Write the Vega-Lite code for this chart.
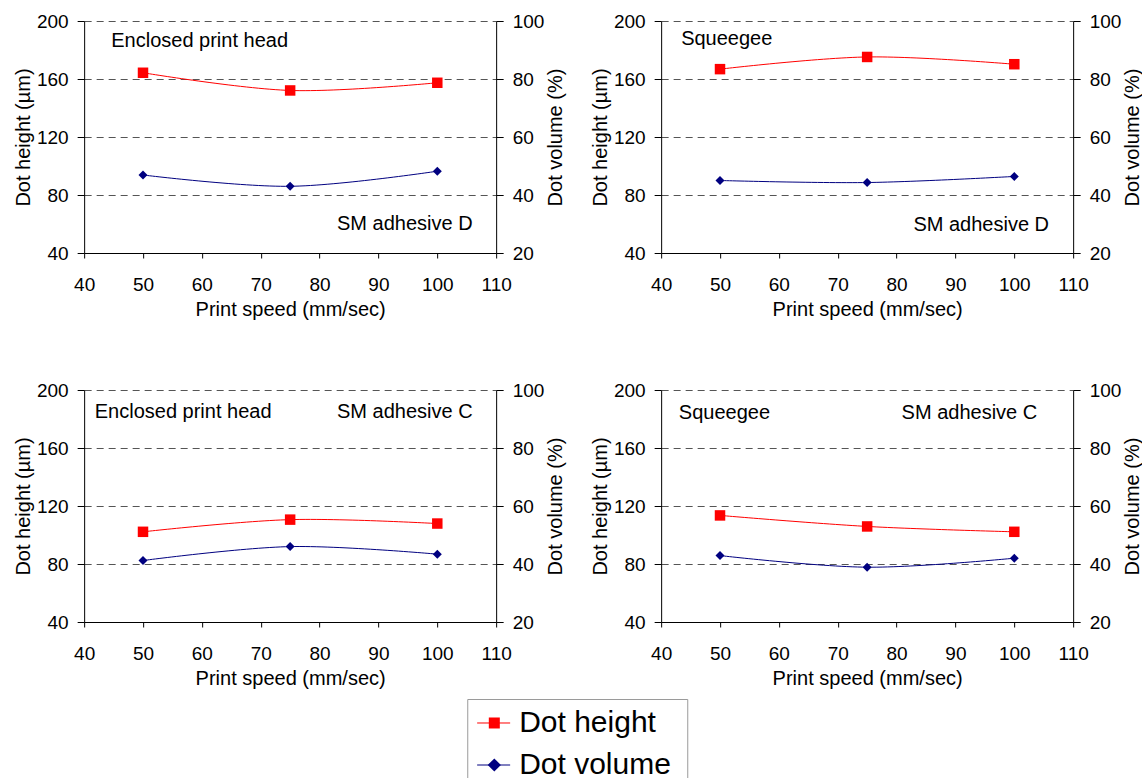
{
  "$schema": "https://vega.github.io/schema/vega-lite/v6.json",
  "padding": {"left": 13, "top": 12, "right": 5, "bottom": 0},
  "background": "white",
  "datasets": {
    "points": [
      {"panel": "A", "method": "Enclosed print head", "adhesive": "SM adhesive D", "speed": 50, "height": 164.3, "volume": 46.9},
      {"panel": "A", "method": "Enclosed print head", "adhesive": "SM adhesive D", "speed": 75, "height": 152.1, "volume": 43.0},
      {"panel": "A", "method": "Enclosed print head", "adhesive": "SM adhesive D", "speed": 100, "height": 157.4, "volume": 48.2},
      {"panel": "B", "method": "Squeegee", "adhesive": "SM adhesive D", "speed": 50, "height": 166.8, "volume": 45.0},
      {"panel": "B", "method": "Squeegee", "adhesive": "SM adhesive D", "speed": 75, "height": 175.2, "volume": 44.3},
      {"panel": "B", "method": "Squeegee", "adhesive": "SM adhesive D", "speed": 100, "height": 170.2, "volume": 46.4},
      {"panel": "C", "method": "Enclosed print head", "adhesive": "SM adhesive C", "speed": 50, "height": 102.2, "volume": 41.2},
      {"panel": "C", "method": "Enclosed print head", "adhesive": "SM adhesive C", "speed": 75, "height": 110.6, "volume": 46.0},
      {"panel": "C", "method": "Enclosed print head", "adhesive": "SM adhesive C", "speed": 100, "height": 107.9, "volume": 43.4},
      {"panel": "D", "method": "Squeegee", "adhesive": "SM adhesive C", "speed": 50, "height": 113.5, "volume": 42.9},
      {"panel": "D", "method": "Squeegee", "adhesive": "SM adhesive C", "speed": 75, "height": 105.9, "volume": 38.9},
      {"panel": "D", "method": "Squeegee", "adhesive": "SM adhesive C", "speed": 100, "height": 102.2, "volume": 42.0}
    ],
    "legend": [
      {"series": "Dot height"},
      {"series": "Dot volume"}
    ]
  },
  "vconcat": [
    {
      "concat": [
        {
          "width": 412, "height": 232,
          "data": {"name": "points"},
          "transform": [{"filter": "datum.panel === 'A'"}],
          "layer": [
            {
              "encoding": {
                "x": {"field": "speed", "type": "quantitative", "scale": {"domain": [40, 110], "nice": false, "zero": false}, "axis": {"values": [40, 50, 60, 70, 80, 90, 100, 110], "title": "Print speed (mm/sec)", "tickSize": 5, "labelPadding": 17, "titlePadding": 5, "grid": false}},
                "y": {"field": "height", "type": "quantitative", "scale": {"domain": [40, 200], "nice": false, "zero": false}, "axis": {"values": [40, 80, 120, 160, 200], "title": "Dot height (µm)", "tickSize": 7, "labelPadding": 9, "titlePadding": 3, "grid": true}}
              },
              "layer": [
                {"mark": {"type": "line", "color": "#ff0000", "strokeWidth": 1, "interpolate": "cardinal"}},
                {"mark": {"type": "point", "shape": "square", "filled": true, "color": "#ff0000", "size": 110, "opacity": 1}},
                {"transform": [{"filter": "datum.speed === 50"}], "mark": {"type": "text", "align": "left", "baseline": "middle", "fontSize": 20, "color": "#000"}, "encoding": {"x": {"datum": 44.6, "type": "quantitative"}, "y": {"datum": 186.5, "type": "quantitative"}, "text": {"field": "method"}}},
                {"transform": [{"filter": "datum.speed === 50"}], "mark": {"type": "text", "align": "right", "baseline": "middle", "fontSize": 20, "color": "#000"}, "encoding": {"x": {"datum": 106.0, "type": "quantitative"}, "y": {"datum": 59.8, "type": "quantitative"}, "text": {"field": "adhesive"}}}
              ]
            },
            {
              "encoding": {
                "x": {"field": "speed", "type": "quantitative"},
                "y": {"field": "volume", "type": "quantitative", "scale": {"domain": [20, 100], "nice": false, "zero": false}, "axis": {"orient": "right", "values": [20, 40, 60, 80, 100], "title": "Dot volume (%)", "titleAngle": 270, "titleBaseline": "top", "tickSize": 7, "labelPadding": 9, "titlePadding": 2, "grid": false}}
              },
              "layer": [
                {"mark": {"type": "line", "color": "#000080", "strokeWidth": 1, "interpolate": "cardinal"}},
                {"mark": {"type": "point", "shape": "diamond", "filled": true, "color": "#000080", "size": 81, "opacity": 1}}
              ]
            }
          ],
          "resolve": {"scale": {"y": "independent"}}
        },
        {
          "width": 412, "height": 232,
          "data": {"name": "points"},
          "transform": [{"filter": "datum.panel === 'B'"}],
          "layer": [
            {
              "encoding": {
                "x": {"field": "speed", "type": "quantitative", "scale": {"domain": [40, 110], "nice": false, "zero": false}, "axis": {"values": [40, 50, 60, 70, 80, 90, 100, 110], "title": "Print speed (mm/sec)", "tickSize": 5, "labelPadding": 17, "titlePadding": 5, "grid": false}},
                "y": {"field": "height", "type": "quantitative", "scale": {"domain": [40, 200], "nice": false, "zero": false}, "axis": {"values": [40, 80, 120, 160, 200], "title": "Dot height (µm)", "tickSize": 7, "labelPadding": 9, "titlePadding": 3, "grid": true}}
              },
              "layer": [
                {"mark": {"type": "line", "color": "#ff0000", "strokeWidth": 1, "interpolate": "cardinal"}},
                {"mark": {"type": "point", "shape": "square", "filled": true, "color": "#ff0000", "size": 110, "opacity": 1}},
                {"transform": [{"filter": "datum.speed === 50"}], "mark": {"type": "text", "align": "left", "baseline": "middle", "fontSize": 20, "color": "#000"}, "encoding": {"x": {"datum": 43.4, "type": "quantitative"}, "y": {"datum": 187.3, "type": "quantitative"}, "text": {"field": "method"}}},
                {"transform": [{"filter": "datum.speed === 50"}], "mark": {"type": "text", "align": "right", "baseline": "middle", "fontSize": 20, "color": "#000"}, "encoding": {"x": {"datum": 105.9, "type": "quantitative"}, "y": {"datum": 59.0, "type": "quantitative"}, "text": {"field": "adhesive"}}}
              ]
            },
            {
              "encoding": {
                "x": {"field": "speed", "type": "quantitative"},
                "y": {"field": "volume", "type": "quantitative", "scale": {"domain": [20, 100], "nice": false, "zero": false}, "axis": {"orient": "right", "values": [20, 40, 60, 80, 100], "title": "Dot volume (%)", "titleAngle": 270, "titleBaseline": "top", "tickSize": 7, "labelPadding": 9, "titlePadding": 2, "grid": false}}
              },
              "layer": [
                {"mark": {"type": "line", "color": "#000080", "strokeWidth": 1, "interpolate": "cardinal"}},
                {"mark": {"type": "point", "shape": "diamond", "filled": true, "color": "#000080", "size": 81, "opacity": 1}}
              ]
            }
          ],
          "resolve": {"scale": {"y": "independent"}}
        },
        {
          "width": 412, "height": 232,
          "data": {"name": "points"},
          "transform": [{"filter": "datum.panel === 'C'"}],
          "layer": [
            {
              "encoding": {
                "x": {"field": "speed", "type": "quantitative", "scale": {"domain": [40, 110], "nice": false, "zero": false}, "axis": {"values": [40, 50, 60, 70, 80, 90, 100, 110], "title": "Print speed (mm/sec)", "tickSize": 5, "labelPadding": 17, "titlePadding": 5, "grid": false}},
                "y": {"field": "height", "type": "quantitative", "scale": {"domain": [40, 200], "nice": false, "zero": false}, "axis": {"values": [40, 80, 120, 160, 200], "title": "Dot height (µm)", "tickSize": 7, "labelPadding": 9, "titlePadding": 3, "grid": true}}
              },
              "layer": [
                {"mark": {"type": "line", "color": "#ff0000", "strokeWidth": 1, "interpolate": "cardinal"}},
                {"mark": {"type": "point", "shape": "square", "filled": true, "color": "#ff0000", "size": 110, "opacity": 1}},
                {"transform": [{"filter": "datum.speed === 50"}], "mark": {"type": "text", "align": "left", "baseline": "middle", "fontSize": 20, "color": "#000"}, "encoding": {"x": {"datum": 41.8, "type": "quantitative"}, "y": {"datum": 184.8, "type": "quantitative"}, "text": {"field": "method"}}},
                {"transform": [{"filter": "datum.speed === 50"}], "mark": {"type": "text", "align": "right", "baseline": "middle", "fontSize": 20, "color": "#000"}, "encoding": {"x": {"datum": 106.0, "type": "quantitative"}, "y": {"datum": 184.8, "type": "quantitative"}, "text": {"field": "adhesive"}}}
              ]
            },
            {
              "encoding": {
                "x": {"field": "speed", "type": "quantitative"},
                "y": {"field": "volume", "type": "quantitative", "scale": {"domain": [20, 100], "nice": false, "zero": false}, "axis": {"orient": "right", "values": [20, 40, 60, 80, 100], "title": "Dot volume (%)", "titleAngle": 270, "titleBaseline": "top", "tickSize": 7, "labelPadding": 9, "titlePadding": 2, "grid": false}}
              },
              "layer": [
                {"mark": {"type": "line", "color": "#000080", "strokeWidth": 1, "interpolate": "cardinal"}},
                {"mark": {"type": "point", "shape": "diamond", "filled": true, "color": "#000080", "size": 81, "opacity": 1}}
              ]
            }
          ],
          "resolve": {"scale": {"y": "independent"}}
        },
        {
          "width": 412, "height": 232,
          "data": {"name": "points"},
          "transform": [{"filter": "datum.panel === 'D'"}],
          "layer": [
            {
              "encoding": {
                "x": {"field": "speed", "type": "quantitative", "scale": {"domain": [40, 110], "nice": false, "zero": false}, "axis": {"values": [40, 50, 60, 70, 80, 90, 100, 110], "title": "Print speed (mm/sec)", "tickSize": 5, "labelPadding": 17, "titlePadding": 5, "grid": false}},
                "y": {"field": "height", "type": "quantitative", "scale": {"domain": [40, 200], "nice": false, "zero": false}, "axis": {"values": [40, 80, 120, 160, 200], "title": "Dot height (µm)", "tickSize": 7, "labelPadding": 9, "titlePadding": 3, "grid": true}}
              },
              "layer": [
                {"mark": {"type": "line", "color": "#ff0000", "strokeWidth": 1, "interpolate": "cardinal"}},
                {"mark": {"type": "point", "shape": "square", "filled": true, "color": "#ff0000", "size": 110, "opacity": 1}},
                {"transform": [{"filter": "datum.speed === 50"}], "mark": {"type": "text", "align": "left", "baseline": "middle", "fontSize": 20, "color": "#000"}, "encoding": {"x": {"datum": 43.0, "type": "quantitative"}, "y": {"datum": 184.3, "type": "quantitative"}, "text": {"field": "method"}}},
                {"transform": [{"filter": "datum.speed === 50"}], "mark": {"type": "text", "align": "right", "baseline": "middle", "fontSize": 20, "color": "#000"}, "encoding": {"x": {"datum": 103.9, "type": "quantitative"}, "y": {"datum": 184.3, "type": "quantitative"}, "text": {"field": "adhesive"}}}
              ]
            },
            {
              "encoding": {
                "x": {"field": "speed", "type": "quantitative"},
                "y": {"field": "volume", "type": "quantitative", "scale": {"domain": [20, 100], "nice": false, "zero": false}, "axis": {"orient": "right", "values": [20, 40, 60, 80, 100], "title": "Dot volume (%)", "titleAngle": 270, "titleBaseline": "top", "tickSize": 7, "labelPadding": 9, "titlePadding": 2, "grid": false}}
              },
              "layer": [
                {"mark": {"type": "line", "color": "#000080", "strokeWidth": 1, "interpolate": "cardinal"}},
                {"mark": {"type": "point", "shape": "diamond", "filled": true, "color": "#000080", "size": 81, "opacity": 1}}
              ]
            }
          ],
          "resolve": {"scale": {"y": "independent"}}
        }
      ],
      "columns": 2,
      "spacing": {"row": 137, "column": 165},
      "bounds": "flush"
    },
    {
      "width": 220, "height": 90,
      "view": {"stroke": "#9a9a9a", "strokeWidth": 1},
      "data": {"name": "legend"},
      "encoding": {
        "y": {"field": "series", "type": "nominal", "scale": {"type": "point", "padding": 0.571}, "axis": {"orient": "right", "labels": false, "ticks": false, "domain": false, "grid": false, "title": " ", "titlePadding": 52, "titleFontSize": 20}},
        "color": {"field": "series", "type": "nominal", "scale": {"domain": ["Dot height", "Dot volume"], "range": ["#ff0000", "#000080"]}, "legend": null}
      },
      "layer": [
        {"mark": {"type": "rule", "strokeWidth": 1}, "encoding": {"x": {"datum": 0.045, "type": "quantitative", "scale": {"domain": [0, 1], "nice": false, "zero": false}, "axis": null}, "x2": {"datum": 0.195}}},
        {"mark": {"type": "point", "filled": true, "opacity": 1, "size": 121}, "encoding": {"x": {"datum": 0.123, "type": "quantitative"}, "shape": {"field": "series", "type": "nominal", "scale": {"domain": ["Dot height", "Dot volume"], "range": ["square", "M0,-1.2L1.2,0L0,1.2L-1.2,0Z"]}, "legend": null}}},
        {"mark": {"type": "text", "align": "left", "baseline": "middle", "fontSize": 30, "color": "#000"}, "encoding": {"x": {"datum": 0.236, "type": "quantitative"}, "text": {"field": "series"}, "color": {"value": "#000"}}}
      ]
    }
  ],
  "spacing": 10,
  "center": true,
  "config": {
    "font": "Liberation Sans",
    "view": {"stroke": null},
    "text": {"font": "Liberation Sans"},
    "axis": {
      "labelFont": "Liberation Sans", "labelFontSize": 19, "labelColor": "#000",
      "titleFont": "Liberation Sans", "titleFontSize": 20, "titleFontWeight": "normal", "titleColor": "#000",
      "domainColor": "#000", "domainWidth": 1, "tickColor": "#000", "tickWidth": 1,
      "gridColor": "#555555", "gridDash": [7, 5], "gridWidth": 1,
      "labelFlush": false, "labelOverlap": false
    }
  }
}
